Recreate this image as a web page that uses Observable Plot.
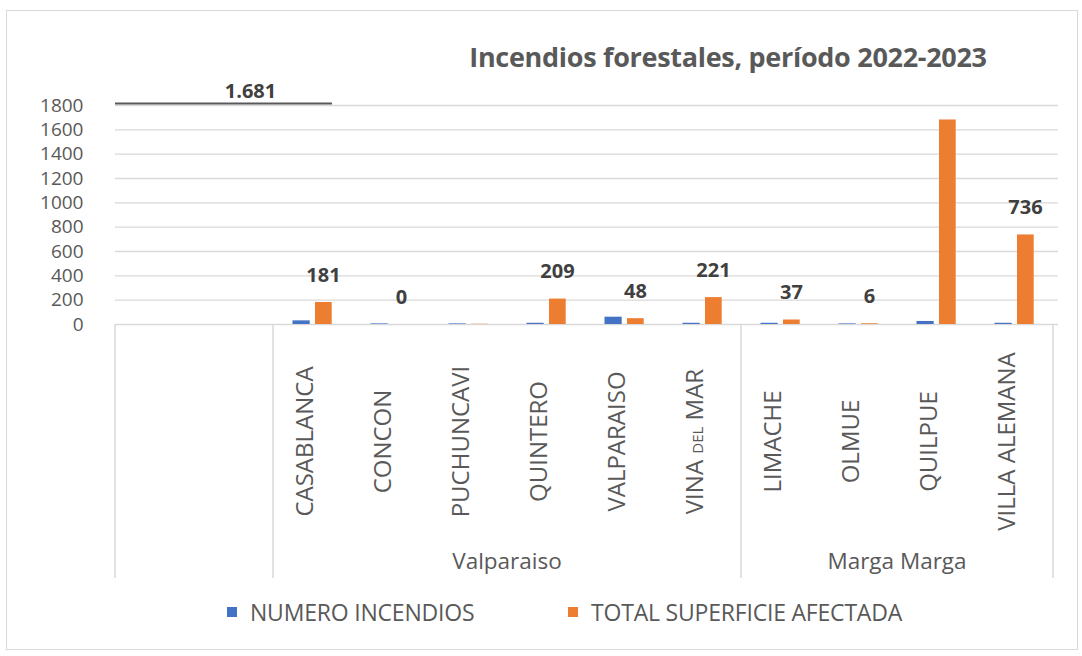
<!DOCTYPE html>
<html>
<head>
<meta charset="utf-8">
<script src="https://cdn.jsdelivr.net/npm/d3@7"></script>
<script src="https://cdn.jsdelivr.net/npm/@observablehq/plot@0.6"></script>
<style>
  html, body { margin: 0; padding: 0; background: #fff; }
  #chart { position: relative; width: 1082px; height: 656px; background: #fff; overflow: hidden; font-family: "Open Sans", sans-serif; }
  #frame { position: absolute; left: 6px; top: 10px; width: 1072px; height: 640px; border: 1px solid #d9d9d9; box-sizing: border-box; }
  #title { position: absolute; left: 728px; top: 39px; transform: translateX(-50%); white-space: nowrap;
           font-family: "Open Sans", sans-serif; font-weight: bold; font-size: 27px; color: #595959; line-height: 36px; letter-spacing: -0.3px; }
  #plot { position: absolute; left: 0; top: 0; }
  .leg { position: absolute; top: 597px; display: flex; align-items: center; font-size: 23px; color: #595959; line-height: 30px; white-space: nowrap; letter-spacing: -0.2px; }
  .sw { width: 10px; height: 10px; margin-right: 13px; }
</style>
</head>
<body>
<div id="chart">
  <div id="frame"></div>
  <div id="title"></div>
  <div id="plot"></div>
  <div class="leg" id="leg1" style="left:227px"><span class="sw"></span><span class="lt"></span></div>
  <div class="leg" id="leg2" style="left:568px"><span class="sw"></span><span class="lt"></span></div>
</div>
<script>
// ---------------- data ----------------
const titleText = "Incendios forestales, período 2022-2023";
const communes = ["CASABLANCA", "CONCON", "PUCHUNCAVI", "QUINTERO", "VALPARAISO", "VINA DEL MAR", "LIMACHE", "OLMUE", "QUILPUE", "VILLA ALEMANA"];
const provinces = ["Valparaiso", "Valparaiso", "Valparaiso", "Valparaiso", "Valparaiso", "Valparaiso", "Marga Marga", "Marga Marga", "Marga Marga", "Marga Marga"];
const blankSlots = ["(vacío 1)", "(vacío 2)"];
const fires = [30, 5, 5, 10, 60, 10, 10, 5, 25, 10];           // NUMERO INCENDIOS (estimated)
const area = [181, 0, 2, 209, 48, 221, 37, 6, 1681, 736];       // TOTAL SUPERFICIE AFECTADA
const areaLabels = ["181", "0", "", "209", "48", "221", "37", "6", "", "736"];
const strayLabel = "1.681";
const seriesNames = ["NUMERO INCENDIOS", "TOTAL SUPERFICIE AFECTADA"];
const seriesColors = ["#4472C4", "#ED7D31"];
const yTicks = [0, 200, 400, 600, 800, 1000, 1200, 1400, 1600, 1800];

// ---------------- build ----------------
const slots = [...blankSlots, ...communes];
const rows = communes.map((c, i) => ({commune: c, province: provinces[i], fires: fires[i], area: area[i], label: areaLabels[i]}));
const groups = d3.groups(rows, d => d.province);

document.getElementById("title").textContent = titleText;
[["leg1", 0], ["leg2", 1]].forEach(([id, i]) => {
  const el = document.getElementById(id);
  el.querySelector(".sw").style.background = seriesColors[i];
  el.querySelector(".lt").textContent = seriesNames[i];
});

const gray = "#595959";
const lineCol = "#d9d9d9";

function tableMark(index, scales, values, dims) {
  const x = scales.x;
  const bw = x.bandwidth();
  const y0 = dims.height - dims.marginBottom;
  const g = d3.create("svg:g");
  const edges = [x(slots[0]) - 2, ...groups.map(([, m]) => x(m[0].commune)), x(slots[slots.length - 1]) + bw];
  g.selectAll("line").data(edges).join("line")
    .attr("x1", d => d).attr("x2", d => d)
    .attr("y1", y0).attr("y2", y0 + 254)
    .attr("stroke", lineCol).attr("stroke-width", 1.5);
  g.selectAll("text").data(groups).join("text")
    .attr("x", ([, m]) => (x(m[0].commune) + x(m[m.length - 1].commune) + bw) / 2)
    .attr("y", y0 + 237)
    .attr("text-anchor", "middle").attr("dy", "0.35em")
    .attr("font-size", 22.5).attr("fill", gray)
    .text(([name]) => name);
  return g.node();
}

const plot = Plot.plot({
  width: 1082,
  height: 590,
  marginLeft: 112,
  marginRight: 24,
  marginTop: 105,
  marginBottom: 266,
  style: {fontFamily: "'Open Sans', sans-serif", background: "transparent", overflow: "visible"},
  x: {type: "band", domain: slots, padding: 0, axis: null},
  y: {domain: [0, 1800], axis: null},
  marks: [
    Plot.gridY(yTicks, {stroke: lineCol, strokeOpacity: 1, strokeWidth: 1.3, x1: () => slots[0], insetLeft: -2}),
    Plot.axisY(yTicks, {tickSize: 0, tickPadding: 29, fontSize: 19, fill: gray, label: null, tickFormat: d => String(d)}),
    Plot.barY(rows, {x: "commune", y: "fires", fill: seriesColors[0], insetLeft: 19.5, insetRight: 41.3}),
    Plot.barY(rows, {x: "commune", y: "area", fill: seriesColors[1], insetLeft: 42, insetRight: 19.3}),
    Plot.text(rows.filter(d => d.label !== ""), {x: "commune", y: "area", text: "label", dx: 11, dy: -27,
      fontWeight: "bold", fontSize: 20, fill: "#404040"}),
    Plot.ruleY([yTicks[yTicks.length - 1]], {x1: () => slots[0], x2: () => "CASABLANCA", insetLeft: -2, insetRight: 19, dy: -2,
      stroke: gray, strokeWidth: 2}),
    Plot.text([strayLabel], {x: () => slots[1], y: () => yTicks[yTicks.length - 1], text: d => d, dx: 16, dy: -14,
      fontWeight: "bold", fontSize: 20, fill: "#404040"}),
    Plot.text(communes, {x: d => d, frameAnchor: "bottom", dy: 117, rotate: -90, textAnchor: "middle",
      fontSize: 24, fill: gray}),
    tableMark
  ]
});

d3.select(plot).selectAll("text").filter(function () { return this.textContent === "VINA DEL MAR"; })
  .each(function () {
    const t = d3.select(this);
    t.text(null);
    t.append("tspan").text("VINA ");
    t.append("tspan").attr("font-size", 15).text("DEL");
    t.append("tspan").text(" MAR");
  });

document.getElementById("plot").appendChild(plot);
</script>
</body>
</html>
